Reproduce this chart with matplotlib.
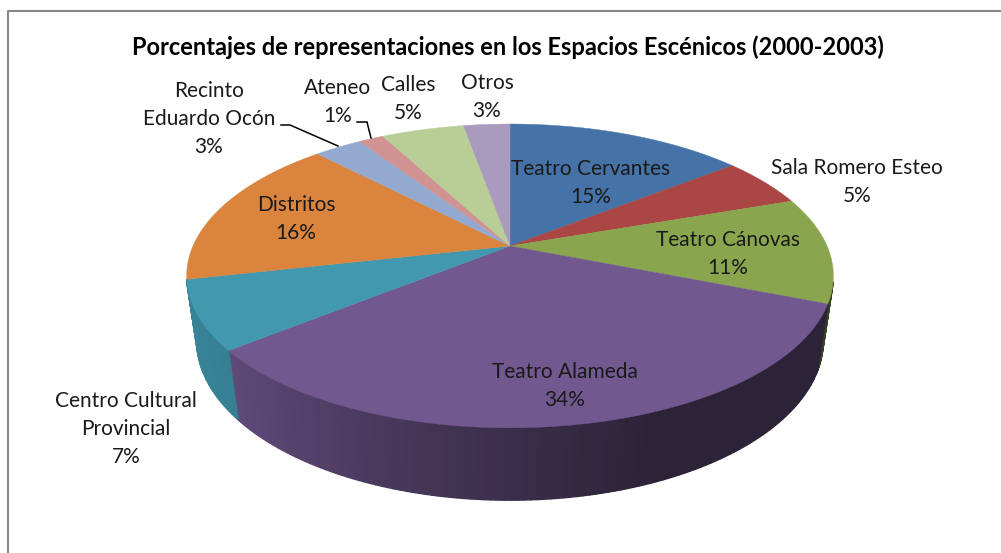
#!/usr/bin/python3
# -*- coding: utf-8 -*-
import numpy as np
import matplotlib
matplotlib.use('Agg')
import matplotlib.pyplot as plt
from matplotlib.patches import Polygon
from matplotlib.colors import to_rgb

title = 'Porcentajes de representaciones en los Espacios Escénicos (2000-2003)'
names = ['Teatro Cervantes', 'Sala Romero Esteo', 'Teatro Cánovas', 'Teatro Alameda',
         'Centro Cultural\nProvincial', 'Distritos', 'Recinto\nEduardo Ocón',
         'Ateneo', 'Calles', 'Otros']
# the labels only show the rounded figure
values = [14.4, 5.3, 11.3, 33.2, 7.3, 16.3, 2.9, 1.5, 5.0, 2.8]
shown = [15, 5, 11, 34, 7, 16, 3, 1, 5, 3]
colors = ['#4572a7', '#aa4643', '#89a54e', '#71588f', '#4198af',
          '#db843d', '#93a9cf', '#d19392', '#b9cd96', '#a99bbd']
label_x = [591, 857, 728, 565, 126, 296, 209, 338, 408, 487]
label_y = [183, 182, 254, 386, 429, 219, 119, 102, 99, 97]

# pie geometry in pixels, the tilt is a small perspective
cx, cy = 510, 246
rx, ry = 317, 146
persp = 0.197
depth = 64
shrink = 0.97  # bottom rim is further from the eye


def project(theta, drop=0.0, r=1.0):
    u = r * np.sin(theta)
    v = -r * np.cos(theta)
    w = 1 - persp * v
    return cx + rx * u / w, cy + (ry * v + drop) / w


def shade(col, theta):
    # side wall gets darker going left to right across the front
    f = np.interp(np.sin(theta), [-1, -0.78, -0.35, 0, 0.35, 1],
                  [0.87, 0.84, 0.65, 0.52, 0.40, 0.40])
    return tuple(c * f for c in to_rgb(col))


fig = plt.figure(figsize=(10.01, 5.53), dpi=100)
ax = fig.add_axes([0, 0, 1, 1])
ax.set_xlim(0, 1001)
ax.set_ylim(553, 0)
ax.axis('off')

# chart frame, cut off on the right and at the bottom
ax.plot([8, 8, 1001], [553, 11, 11], color='#868686', lw=1.5, zorder=1)

edges = np.cumsum([0] + values) / sum(values) * 2 * np.pi

# side walls first
for i, col in enumerate(colors):
    ts = np.linspace(edges[i], edges[i + 1], max(int(np.degrees(edges[i + 1] - edges[i])), 2) + 1)
    for t0, t1 in zip(ts[:-1], ts[1:]):
        if np.cos((t0 + t1) / 2) > -0.225:
            continue
        x0, y0 = project(t0)
        x1, y1 = project(t1)
        x2, y2 = project(t1, depth, shrink)
        x3, y3 = project(t0, depth, shrink)
        c = shade(col, (t0 + t1) / 2)
        ax.add_patch(Polygon([(x0, y0), (x1, y1), (x2, y2), (x3, y3)], closed=True,
                             fc=c, ec=c, lw=1.0, zorder=2))

# top face
for i, col in enumerate(colors):
    ts = np.linspace(edges[i], edges[i + 1], 120)
    xs, ys = project(ts)
    pts = [(cx, cy)] + list(zip(xs, ys))
    ax.add_patch(Polygon(pts, closed=True, fc=col, ec=col, lw=0.3, zorder=3))

# labels
for name, pct, x, y in zip(names, shown, label_x, label_y):
    ax.text(x, y, '%s\n%d%%' % (name, pct), ha='center', va='center', fontsize=15,
            family='Lato', color='#1a1a1a', linespacing=1.53, zorder=5)

# leader lines
ax.plot([281, 290, 338], [125, 125, 146], color='black', lw=1.1, zorder=4)
ax.plot([357, 367, 371], [122, 122, 138], color='black', lw=1.1, zorder=4)

ax.text(508, 47, title, ha='center', va='center', fontsize=17, fontweight='bold',
        family='Lato', color='black', zorder=5)

fig.savefig('out.png', dpi=100)
